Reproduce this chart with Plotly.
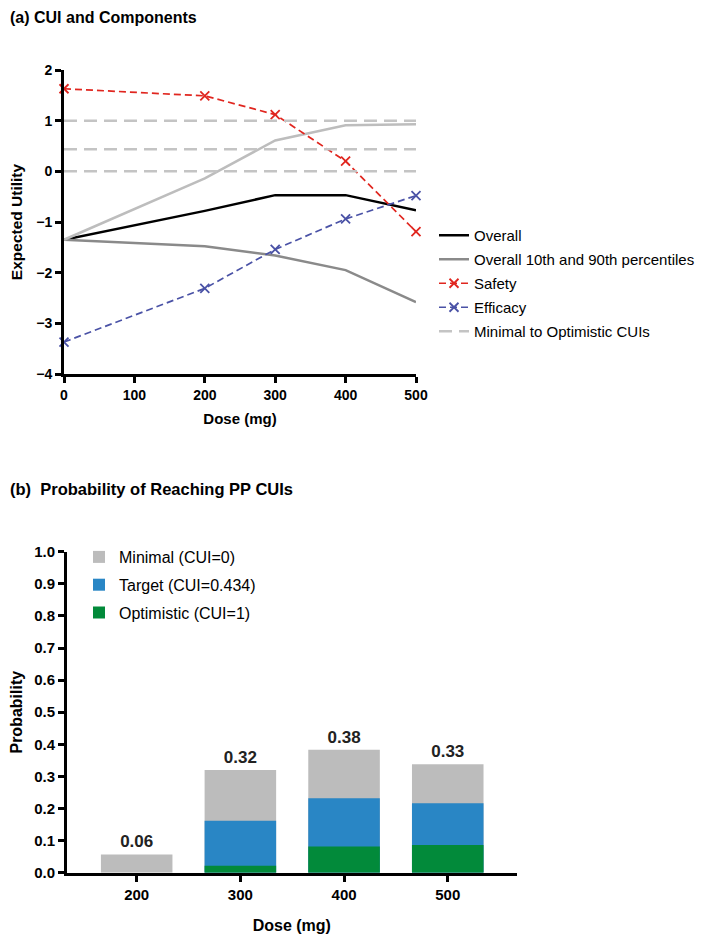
import plotly.graph_objects as go

# ---------------- data: panel (a) ----------------
dose = [0, 200, 300, 400, 500]
overall = [-1.35, -0.78, -0.47, -0.47, -0.77]
p90 = [-1.35, -0.14, 0.61, 0.91, 0.93]
p10 = [-1.35, -1.48, -1.66, -1.95, -2.58]
safety = [1.63, 1.49, 1.12, 0.20, -1.19]
efficacy = [-3.37, -2.31, -1.54, -0.94, -0.48]
cui_levels = [1.0, 0.434, 0.0]

# ---------------- data: panel (b) ----------------
bar_dose = ["200", "300", "400", "500"]
p_minimal = [0.057, 0.320, 0.383, 0.338]
p_target = [0.0, 0.162, 0.232, 0.216]
p_optimistic = [0.0, 0.022, 0.082, 0.086]
bar_labels = ["0.06", "0.32", "0.38", "0.33"]

FONT = "Liberation Sans, Arial, sans-serif"
OFF = 8  # page body margin
W, H = 709 - OFF, 934 - OFF


def px(p):
    return (p - OFF) / W


def py(p):
    return 1 - (p - OFF) / H


fig = go.Figure()

# panel (a) traces
fig.add_trace(go.Scatter(x=dose, y=overall, mode="lines", name="Overall",
                         line=dict(color="black", width=2.5), legend="legend",
                         legendgroup="a1", cliponaxis=False, xaxis="x", yaxis="y"))
fig.add_trace(go.Scatter(x=dose, y=p10, mode="lines", name="Overall 10th and 90th percentiles",
                         line=dict(color="#8a8a8a", width=2.5), legend="legend",
                         legendgroup="a2", cliponaxis=False, xaxis="x", yaxis="y"))
fig.add_trace(go.Scatter(x=dose, y=p90, mode="lines", name="Overall 90th",
                         line=dict(color="#bdbdbd", width=2.5), showlegend=False,
                         legendgroup="a2", cliponaxis=False, xaxis="x", yaxis="y"))
fig.add_trace(go.Scatter(x=dose, y=safety, mode="lines+markers", name="Safety",
                         line=dict(color="#e0261f", width=1.7, dash="7px,4px"),
                         marker=dict(symbol="x-thin", size=9, line=dict(color="#e0261f", width=1.8)),
                         legend="legend", legendgroup="a3", cliponaxis=False, xaxis="x", yaxis="y"))
fig.add_trace(go.Scatter(x=dose, y=efficacy, mode="lines+markers", name="Efficacy",
                         line=dict(color="#4a52a6", width=1.7, dash="7px,4px"),
                         marker=dict(symbol="x-thin", size=9, line=dict(color="#4a52a6", width=1.8)),
                         legend="legend", legendgroup="a4", cliponaxis=False, xaxis="x", yaxis="y"))
cx, cy = [], []
for lv in cui_levels:
    cx += [dose[0], dose[-1], None]
    cy += [lv, lv, None]
fig.add_trace(go.Scatter(x=cx, y=cy, mode="lines", name="Minimal to Optimistic CUIs",
                         line=dict(color="#c4c4c4", width=2.5, dash="13px,7px"),
                         legend="legend", legendgroup="a5", cliponaxis=False, xaxis="x", yaxis="y"))

# panel (b) traces (overlaid cumulative probabilities)
fig.add_trace(go.Bar(x=bar_dose, y=p_minimal, name="Minimal (CUI=0)", marker=dict(color="#bcbcbc", line=dict(width=0)),
                     width=0.69, text=["<b>%s</b>" % t for t in bar_labels], textposition="outside",
                     textfont=dict(size=17, color="#222", family=FONT), cliponaxis=False,
                     legend="legend2", legendgroup="b1", xaxis="x2", yaxis="y2"))
fig.add_trace(go.Bar(x=bar_dose, y=p_target, name="Target (CUI=0.434)", marker=dict(color="#2986c5", line=dict(width=0)),
                     width=0.69, legend="legend2", legendgroup="b2", xaxis="x2", yaxis="y2"))
fig.add_trace(go.Bar(x=bar_dose, y=p_optimistic, name="Optimistic (CUI=1)", marker=dict(color="#028a3a", line=dict(width=0)),
                     width=0.69, legend="legend2", legendgroup="b3", xaxis="x2", yaxis="y2"))


def axis_common(tick_size):
    return dict(showgrid=False, zeroline=False, showline=True, linecolor="black", linewidth=3,
                ticks="outside", ticklen=6, tickwidth=2.5, tickcolor="black",
                tickfont=dict(family=FONT, size=tick_size, color="black", weight="bold"))


fig.update_layout(
    width=W, height=H,
    margin=dict(l=0, r=0, t=0, b=0, autoexpand=False),
    paper_bgcolor="white", plot_bgcolor="white",
    barmode="overlay",
    font=dict(family=FONT, color="black"),
    xaxis=dict(domain=[px(64), px(416)], range=[0, 500], tickvals=[0, 100, 200, 300, 400, 500],
               anchor="y",
               title=dict(text="<b>Dose (mg)</b>", font=dict(size=15), standoff=12), **axis_common(14)),
    yaxis=dict(domain=[py(374), py(70)], range=[-4, 2], tickvals=[-4, -3, -2, -1, 0, 1, 2],
               anchor="x",
               title=dict(text="<b>Expected Utility</b>", font=dict(size=15.5), standoff=23), **axis_common(14)),
    xaxis2=dict(domain=[px(67), px(516.7)], range=[-0.672, 3.665], type="category",
                anchor="y2",
                title=dict(text="<b>Dose (mg)</b>", font=dict(size=16), standoff=22), **axis_common(15)),
    yaxis2=dict(domain=[py(872.7), py(551.7)], range=[0, 1.0], tickvals=[i / 10 for i in range(11)],
                tickformat=".1f", anchor="x2",
                title=dict(text="<b>Probability</b>", font=dict(size=16), standoff=19), **axis_common(15)),
    legend=dict(x=px(434), y=py(219), xanchor="left", yanchor="top",
                font=dict(size=15, color="black"), tracegroupgap=1.5, bgcolor="rgba(0,0,0,0)",
                traceorder="grouped"),
    legend2=dict(x=px(79), y=py(540), xanchor="left", yanchor="top",
                 font=dict(size=16, color="black"), tracegroupgap=4, bgcolor="rgba(0,0,0,0)"),
    annotations=[
        dict(text="<b>(a) CUI and Components</b>", x=0, y=py(17), xref="paper", yref="paper",
             xanchor="left", yanchor="middle", showarrow=False, font=dict(size=16, family=FONT)),
        dict(text="<b>(b)  Probability of Reaching PP CUIs</b>", x=0, y=py(489), xref="paper", yref="paper",
             xanchor="left", yanchor="middle", showarrow=False, font=dict(size=16.5, family=FONT)),
    ],
)

fig.write_html("out.html")
